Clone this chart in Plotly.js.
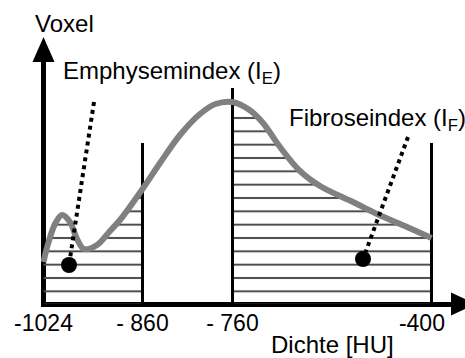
<!DOCTYPE html>
<html><head><meta charset="utf-8">
<script src="https://cdn.plot.ly/plotly-3.0.1.min.js"></script>
<style>html,body{margin:0;padding:0;background:#fff;overflow:hidden}</style>
</head><body><div id="chart" style="width:465px;height:358px"></div>
<script>
// Schematic density axis: HU labels and their positions along the (non-linear) axis
const huLabels = ["-1024", "- 860", "- 760", "-400"];
const huPos = [0, 99, 189, 388];
// boundary lines at -860, -760, -400 and their heights
const boundaryPos = [99, 189, 388];
const boundaryTop = [161, 216, 161];
// histogram curve (voxel count, arbitrary units)
const curveX = [0, 4.5, 11.5, 18.5, 26.5, 33.5, 40.5, 53.5, 66.5, 76.5, 99, 116.5, 136.5, 156.5, 172, 189, 206, 219.5, 236.5, 256.5, 276.5, 309.5, 333.5, 363.5, 388];
const curveY = [42, 60, 80, 89, 82, 65, 55, 59, 73, 84, 115, 141, 169, 190, 200, 202, 194, 181, 157, 133, 118, 102, 90, 77, 66];
// pointer lines (label -> marker dot)
const emphX = [50.5, 25.5];
const emphY = [202, 39];
const fibX = [364.5, 319.5];
const fibY = [167, 45];

const L = 41, T = 58, W = 424, H = 249;
const P = (px, py) => [(px - L) / W, (T + H - py) / H];
const path = pts => 'M' + pts.map(p => P(p[0], p[1]).join(',')).join('L') + 'Z';

function region(a, b) {
  const xs = [], ys = [];
  curveX.forEach((x, i) => { if (x >= a && x <= b) { xs.push(x); ys.push(curveY[i]); } });
  return {x: xs, y: ys};
}
const hatch = {shape: '-', fgcolor: '#4d4d4d', bgcolor: 'rgba(0,0,0,0)', size: 13.333, solidity: 0.15, fillmode: 'replace'};
const rE = region(huPos[0], huPos[1]);
const rF = region(huPos[2], huPos[3]);

const bx = [], by = [];
boundaryPos.forEach((x, i) => { bx.push(x, x, null); by.push(0, boundaryTop[i], null); });

const traces = [
  {x: rE.x, y: rE.y, mode: 'lines', line: {width: 0, shape: 'spline'}, fill: 'tozeroy', fillcolor: 'rgba(0,0,0,0)', fillpattern: hatch, hoverinfo: 'skip'},
  {x: rF.x, y: rF.y, mode: 'lines', line: {width: 0, shape: 'spline'}, fill: 'tozeroy', fillcolor: 'rgba(0,0,0,0)', fillpattern: hatch, hoverinfo: 'skip'},
  {x: bx, y: by, mode: 'lines', line: {color: '#000', width: 3}, connectgaps: false},
  {x: curveX, y: curveY, mode: 'lines', line: {color: '#808080', width: 6, shape: 'spline'}},
  {x: emphX, y: emphY, mode: 'lines', line: {color: '#000', width: 4, dash: 'dot'}},
  {x: fibX, y: fibY, mode: 'lines', line: {color: '#000', width: 4, dash: 'dot'}},
  {x: [emphX[1], fibX[1]], y: [emphY[1], fibY[1]], mode: 'markers', marker: {color: '#000', size: 16}}
];

const tickFont = {family: 'Liberation Sans, Arial, sans-serif', size: 23, color: '#000'};
const annFont = {family: 'Liberation Sans, Arial, sans-serif', size: 24, color: '#000'};
function ann(text, px, py, xanchor) {
  const p = P(px, py);
  return {text: text, x: p[0], y: p[1], xref: 'paper', yref: 'paper', xanchor: xanchor, yanchor: 'middle', showarrow: false, font: annFont};
}
// last label sits slightly left of its boundary line in the reference
const tickText = huLabels.map((t, i) => i === huLabels.length - 1 ? t + '&nbsp;&nbsp;&nbsp;' : t);

const layout = {
  width: 465, height: 358,
  margin: {l: L, r: 465 - L - W, t: T, b: 358 - T - H},
  paper_bgcolor: '#fff', plot_bgcolor: '#fff', showlegend: false,
  font: tickFont,
  xaxis: {range: [-2.5, 421.5], showgrid: false, zeroline: true, zerolinecolor: '#000', zerolinewidth: 5,
          showline: false, tickvals: huPos, ticktext: tickText, ticks: '', tickfont: tickFont,
          ticklabeloverflow: 'allow', fixedrange: true},
  yaxis: {range: [-3, 246], showgrid: false, zeroline: true, zerolinecolor: '#000', zerolinewidth: 5,
          showticklabels: false, ticks: '', fixedrange: true},
  shapes: [
    {type: 'path', xref: 'paper', yref: 'paper', path: path([[43.5, 37], [32.5, 62], [54.5, 62]]), fillcolor: '#000', line: {width: 0}},
    {type: 'path', xref: 'paper', yref: 'paper', path: path([[476, 304], [451, 292.5], [451, 315.5]]), fillcolor: '#000', line: {width: 0}}
  ],
  annotations: [
    ann('Voxel', 33, 23, 'left'),
    ann('Emphysemindex (I<sub>E</sub>)', 61, 72, 'left'),
    ann('Fibroseindex (I<sub>F</sub>)', 287, 119, 'left'),
    ann('Dichte [HU]', 332, 344, 'center')
  ]
};
Plotly.newPlot('chart', traces, layout, {staticPlot: true, displayModeBar: false});
</script></body></html>
